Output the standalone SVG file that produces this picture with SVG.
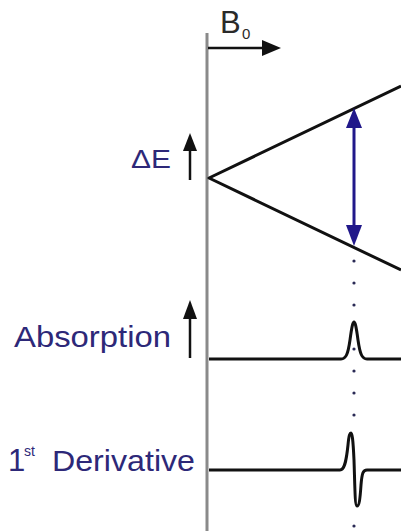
<svg xmlns="http://www.w3.org/2000/svg" width="401" height="531" viewBox="0 0 401 531">
<style>
.lbl{font-family:"Liberation Sans",Arial,sans-serif;fill:#2d2878}
.ln{stroke:#111;stroke-width:3;fill:none;stroke-linejoin:round}
.dot{fill:#2a2a55}
</style>
<rect width="401" height="531" fill="#fff"/>
<g id="axis">
<line x1="207" y1="33" x2="207" y2="531" stroke="#8a8a8a" stroke-width="3"/>
</g>
<g id="b0">
<text class="lbl" x="220" y="33" font-size="31" style="fill:#2a2a2a">B</text>
<text class="lbl" x="242" y="39" font-size="15" style="fill:#2a2a2a">0</text>
<line x1="208" y1="48" x2="265" y2="48" stroke="#111" stroke-width="2.5"/>
<polygon points="262,40 281,48 262,56" fill="#111"/>
</g>
<g id="levels">
<polyline class="ln" points="401,86 209,178 401,270"/>
</g>
<g id="transition">
<line x1="354" y1="125" x2="354" y2="228" stroke="#21188a" stroke-width="3"/>
<polygon points="354,108 362,128 346,128" fill="#21188a"/>
<polygon points="354,246 362,225 346,225" fill="#21188a"/>
</g>
<g id="dots">
<circle class="dot" cx="354" cy="261" r="1.6"/>
<circle class="dot" cx="354" cy="283" r="1.6"/>
<circle class="dot" cx="354" cy="305" r="1.6"/>
<circle class="dot" cx="354" cy="349" r="1.6"/>
<circle class="dot" cx="354" cy="371" r="1.6"/>
<circle class="dot" cx="354" cy="393" r="1.6"/>
<circle class="dot" cx="354" cy="415" r="1.6"/>
<circle class="dot" cx="354" cy="526" r="1.6"/>
</g>
<g id="dE">
<text class="lbl" x="131" y="168" font-size="25" textLength="40" lengthAdjust="spacingAndGlyphs">ΔE</text>
<line x1="190" y1="146" x2="190" y2="180" stroke="#111" stroke-width="2.5"/>
<polygon points="190,133 197,151 183,151" fill="#111"/>
</g>
<g id="absorption">
<text class="lbl" x="14" y="347" font-size="30" textLength="157" lengthAdjust="spacingAndGlyphs">Absorption</text>
<line x1="190" y1="314" x2="190" y2="358" stroke="#111" stroke-width="2.5"/>
<polygon points="190,300 197,319 183,319" fill="#111"/>
<path class="ln" d="M209,359 L341,359 C346,359 348,354 350,340 C352,325 353,322 354,322 C355,322 356,325 358,340 C360,354 362,359 367,359 L401,359"/>
</g>
<g id="derivative">
<text class="lbl" x="8" y="471" font-size="31">1</text>
<text class="lbl" x="24" y="456" font-size="14">st</text>
<text class="lbl" x="52" y="471" font-size="30" textLength="143" lengthAdjust="spacingAndGlyphs">Derivative</text>
<path class="ln" d="M209,470 L340,470 C344,470 346,464 348,445 C349,434 350,433 351,433 C352,433 353,438 354,460 C355,490 355,506 357,506 C359,506 360,500 361,485 C362,473 363,470 367,470 L401,470"/>
</g>
</svg>
